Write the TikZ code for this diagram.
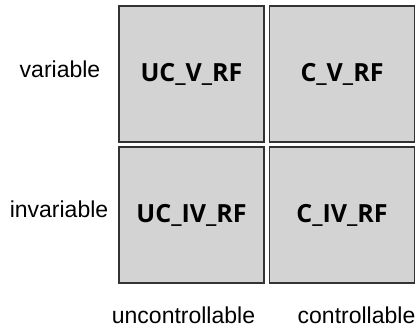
\documentclass[tikz,border=0pt]{standalone}
\usepackage{fontspec}
\setmainfont{Liberation Sans}
\newfontfamily\boxfont{Open Sans}[UprightFont={* Bold}]
\definecolor{boxfill}{HTML}{D3D3D3}
\definecolor{boxline}{HTML}{333333}
\begin{document}
\begin{tikzpicture}[x=1pt,y=-1pt,
  cell/.style={draw=boxline,line width=1.6pt,fill=boxfill,minimum width=145pt,minimum height=136pt,inner sep=0pt,
    font=\boxfont\fontsize{25}{29}\selectfont},
  lab/.style={font=\fontsize{23}{27}\selectfont,inner sep=0pt,anchor=base}]
\useasboundingbox (0,0) rectangle (419,330);
\node[cell] (ucv) at (191.5,74) {UC\_V\_RF};
\node[cell] (cv) at (342,74) {C\_V\_RF};
\node[cell] (uciv) at (191.5,215) {UC\_IV\_RF};
\node[cell] (civ) at (342,215) {C\_IV\_RF};
\node[lab] (lv) at (60,77) {variable};
\node[lab] (liv) at (59,217) {invariable};
\node[lab] (luc) at (183.5,323) {uncontrollable};
\node[lab] (lc) at (356.5,323) {controllable};
\end{tikzpicture}
\end{document}
